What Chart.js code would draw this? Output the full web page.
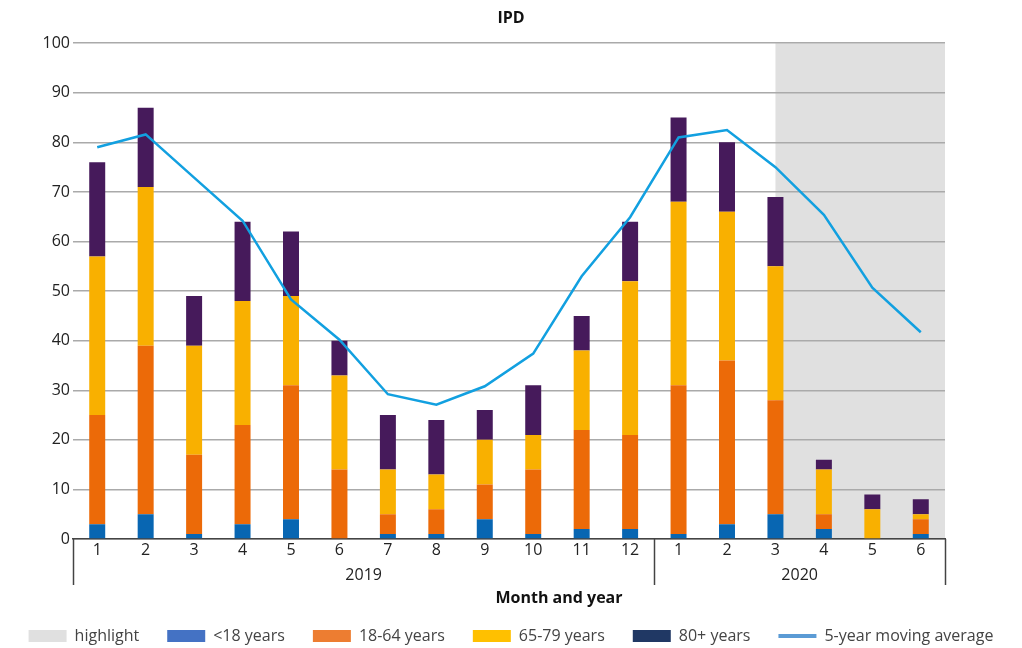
<!DOCTYPE html>
<html>
<head>
<meta charset="utf-8">
<script src="https://cdn.jsdelivr.net/npm/chart.js@4.4.1/dist/chart.umd.min.js"></script>
<style>
  html, body { margin: 0; padding: 0; background: #fff; }
  #wrap { width: 1022px; height: 648px; position: relative; }
</style>
</head>
<body>
<div id="wrap"><canvas id="ipdChart"></canvas></div>
<script>
const months = ['1', '2', '3', '4', '5', '6', '7', '8', '9', '10', '11', '12', '1', '2', '3', '4', '5', '6'];
const years = ['2019', '2019', '2019', '2019', '2019', '2019', '2019', '2019', '2019', '2019', '2019', '2019',
               '2020', '2020', '2020', '2020', '2020', '2020'];

const under18 = [3, 5, 1, 3, 4, 0, 1, 1, 4, 1, 2, 2, 1, 3, 5, 2, 0, 1];
const age18to64 = [22, 34, 16, 20, 27, 14, 4, 5, 7, 13, 20, 19, 30, 33, 23, 3, 0, 3];
const age65to79 = [32, 32, 22, 25, 18, 19, 9, 7, 9, 7, 16, 31, 37, 30, 27, 9, 6, 1];
const age80plus = [19, 16, 10, 16, 13, 7, 11, 11, 6, 10, 7, 12, 17, 14, 14, 2, 3, 3];
const movingAvg = [79, 81.6, 72.9, 64.2, 48.3, 40.2, 29.2, 27.1, 30.8, 37.4, 53, 64.9, 81, 82.5, 75, 65.4, 50.7, 41.7];

// highlighted period starts at this category (2020, month 3)
const highlightFrom = 14;

const fontFamily = '"Open Sans", "DejaVu Sans", sans-serif';

const extrasPlugin = {
    id: 'extras',
    beforeDraw(chart) {
        const { ctx, chartArea } = chart;
        const x = chart.scales.x;
        ctx.save();
        ctx.fillStyle = '#e0e0e0';
        const start = x.getPixelForValue(highlightFrom);
        ctx.fillRect(start, chartArea.top, chartArea.right - start, chartArea.bottom - chartArea.top);
        ctx.restore();
    },
    afterDraw(chart) {
        const { ctx, chartArea } = chart;
        const x = chart.scales.x;
        const bottom = chartArea.bottom;

        // year groups
        const groups = [];
        years.forEach((y, i) => {
            const last = groups[groups.length - 1];
            if (last && last.label === y) last.to = i;
            else groups.push({ label: y, from: i, to: i });
        });

        ctx.save();
        ctx.strokeStyle = '#444';
        ctx.lineWidth = 1.5;
        const edges = [chartArea.left];
        groups.forEach((g, gi) => {
            if (gi < groups.length - 1) {
                edges.push((x.getPixelForValue(g.to) + x.getPixelForValue(g.to + 1)) / 2);
            }
        });
        edges.push(chartArea.right);
        edges.forEach(px => {
            ctx.beginPath();
            ctx.moveTo(Math.round(px) + 0.5, bottom);
            ctx.lineTo(Math.round(px) + 0.5, bottom + 46);
            ctx.stroke();
        });

        ctx.fillStyle = '#222';
        ctx.font = '16px ' + fontFamily;
        ctx.textAlign = 'center';
        ctx.textBaseline = 'middle';
        groups.forEach((g, gi) => {
            const cx = (edges[gi] + edges[gi + 1]) / 2;
            ctx.fillText(g.label, cx, bottom + 36);
        });

        ctx.font = 'bold 16px ' + fontFamily;
        ctx.fillStyle = '#111';
        ctx.fillText('Month and year', chartArea.left + (chartArea.right - chartArea.left) / 2 + 50, bottom + 59);
        ctx.restore();
    }
};

const legendItems = [
    { text: 'highlight', fillStyle: '#e0e0e0', pointStyle: 'rect' },
    { text: '<18 years', fillStyle: '#4472c4', pointStyle: 'rect' },
    { text: '18-64 years', fillStyle: '#ed7d31', pointStyle: 'rect' },
    { text: '65-79 years', fillStyle: '#ffc000', pointStyle: 'rect' },
    { text: '80+ years', fillStyle: '#203864', pointStyle: 'rect' },
    { text: '5-year moving average', fillStyle: '#5b9bd5', strokeStyle: '#5b9bd5', pointStyle: 'line', lineWidth: 4 }
];

new Chart(document.getElementById('ipdChart'), {
    type: 'bar',
    data: {
        labels: months,
        datasets: [
            { label: '5-year moving average', type: 'line', data: movingAvg, stack: 'avg', borderColor: '#12a0e0', borderWidth: 2.5, pointRadius: 0, tension: 0, order: 0 },
            { label: '<18 years', data: under18, backgroundColor: '#0866b2', order: 1 },
            { label: '18-64 years', data: age18to64, backgroundColor: '#ec6a08', order: 1 },
            { label: '65-79 years', data: age65to79, backgroundColor: '#f9b000', order: 1 },
            { label: '80+ years', data: age80plus, backgroundColor: '#461a5b', order: 1 }
        ]
    },
    options: {
        responsive: true,
        maintainAspectRatio: false,
        animation: false,
        layout: { padding: { top: 0, right: 0, left: 0, bottom: -6 } },
        datasets: {
            bar: { barPercentage: 0.33, categoryPercentage: 1 }
        },
        plugins: {
            title: {
                display: true,
                text: 'IPD',
                color: '#111',
                font: { family: fontFamily, size: 16, weight: 'bold' },
                padding: { top: 9, bottom: 15 }
            },
            legend: {
                position: 'bottom',
                labels: {
                    usePointStyle: true,
                    pointStyleWidth: 38,
                    boxHeight: 12,
                    padding: 28,
                    color: '#444',
                    font: { family: fontFamily, size: 16 },
                    generateLabels: () => legendItems.map(it => ({
                        text: it.text,
                        fillStyle: it.fillStyle,
                        strokeStyle: it.strokeStyle || it.fillStyle,
                        lineWidth: it.lineWidth || 0,
                        pointStyle: it.pointStyle,
                        fontColor: '#444',
                        hidden: false
                    }))
                }
            },
            tooltip: { enabled: false }
        },
        scales: {
            x: {
                stacked: true,
                grid: { display: false, drawTicks: false },
                border: { display: true, color: '#444', width: 1.5 },
                ticks: { color: '#222', font: { family: fontFamily, size: 16 }, padding: 2, maxRotation: 0 },
                afterFit(scale) { scale.height = 61; }
            },
            y: {
                stacked: true,
                min: 0,
                max: 100,
                ticks: { stepSize: 10, color: '#222', font: { family: fontFamily, size: 16 }, padding: 3 },
                grid: { color: '#aaaaaa', lineWidth: 1.5, drawTicks: false },
                border: { display: false },
                afterFit(scale) { scale.width = 73; }
            },
            // empty right-hand margin, keeps the legend free to use the full width
            yRight: {
                type: 'linear',
                position: 'right',
                display: true,
                grid: { display: false, drawTicks: false },
                ticks: { display: false },
                border: { display: false },
                afterFit(scale) { scale.width = 77; }
            }
        }
    },
    plugins: [extrasPlugin]
});
</script>
</body>
</html>
